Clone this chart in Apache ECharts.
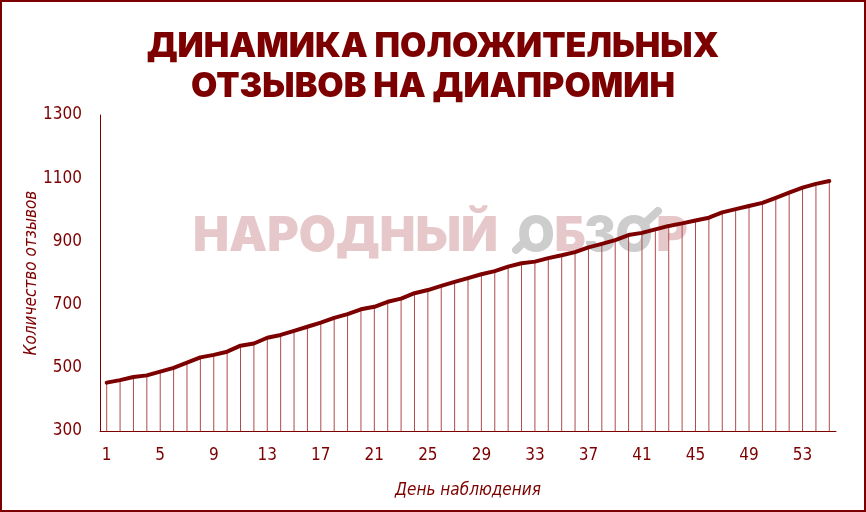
<!DOCTYPE html>
<html><head><meta charset="utf-8">
<script src="https://cdn.jsdelivr.net/npm/echarts@6/dist/echarts.min.js"></script>
<style>html,body{margin:0;padding:0;background:#fff}#c{width:866px;height:512px}</style>
</head><body><div id="c"></div>
<script>
const days = Array.from({length:55},(_,i)=>String(i+1));
const reviews = [453,461,471,476,488,500,516,533,541,551,570,577,595,604,617,630,643,658,670,685,693,709,719,736,746,759,772,784,796,806,820,831,836,847,856,866,881,892,904,920,927,938,949,957,966,975,992,1002,1012,1022,1038,1054,1070,1082,1091];
const titleLines = ['ДИНАМИКА ПОЛОЖИТЕЛЬНЫХ','ОТЗЫВОВ НА ДИАПРОМИН'];
const yName = 'Количество отзывов';
const xName = 'День наблюдения';
const RED = '#7d0000';
const PINK = '#e6c8ca', GREY = '#cdcdcd';
const labelFont = "'Liberation Sans Narrow','DejaVu Sans Condensed',sans-serif";
const wmFont = "900 48px Inter";
function wmLetter(ch, cx, color){
  return {type:'text',z:0,silent:true,style:{text:ch,x:cx,y:213,align:'center',verticalAlign:'top',fill:color,font:wmFont}};
}
const chart = echarts.init(document.getElementById('c'));
chart.setOption({
  animation:false,
  backgroundColor:'#fff',
  title:{text:titleLines.join('\n'),left:'center',top:22,textStyle:{color:RED,fontFamily:'Inter',fontWeight:900,fontSize:34,lineHeight:40}},
  graphic:[
    {type:'rect',z:100,silent:true,shape:{x:1,y:1,width:864,height:510},style:{fill:'none',stroke:RED,lineWidth:2}},
    {type:'text',z:0,silent:true,style:{text:'НАРОДНЫЙ',x:193,y:213,align:'left',verticalAlign:'top',fill:PINK,font:wmFont}},
    wmLetter('О',536,GREY),
    wmLetter('Б',570,PINK),
    wmLetter('З',600,GREY),
    wmLetter('О',634,GREY),
    wmLetter('Р',672,PINK),
    {type:'line',z:0,silent:true,shape:{x1:516,y1:250,x2:526,y2:240},style:{stroke:GREY,lineWidth:8,lineCap:'round'}},
    {type:'line',z:0,silent:true,shape:{x1:644,y1:224,x2:658,y2:211},style:{stroke:GREY,lineWidth:8,lineCap:'round'}}
  ],
  grid:{left:100,right:30,top:115,bottom:81},
  xAxis:{type:'category',data:days,boundaryGap:true,
    name:xName,nameLocation:'middle',nameGap:51,nameMoveOverlap:false,
    nameTextStyle:{color:RED,fontStyle:'italic',fontFamily:labelFont,fontSize:17},
    axisLine:{lineStyle:{color:RED,width:1}},axisTick:{show:false},
    axisLabel:{interval:3,color:RED,fontFamily:labelFont,fontSize:17,margin:16}},
  yAxis:{type:'value',min:300,max:1300,interval:200,
    name:yName,nameLocation:'middle',nameGap:60,nameRotate:90,nameMoveOverlap:false,
    nameTextStyle:{color:RED,fontStyle:'italic',fontFamily:labelFont,fontSize:17},
    axisLine:{show:true,lineStyle:{color:RED,width:1}},axisTick:{show:false},splitLine:{show:false},
    axisLabel:{color:RED,fontFamily:labelFont,fontSize:17,margin:18,formatter:v=>String(v)}},
  series:[
    {type:'bar',data:reviews,barWidth:1,itemStyle:{color:'#b04a4a'},z:2,silent:true},
    {type:'line',data:reviews,showSymbol:false,lineStyle:{color:RED,width:4,join:'round',cap:'round'},z:3,silent:true}
  ]
});
</script></body></html>
